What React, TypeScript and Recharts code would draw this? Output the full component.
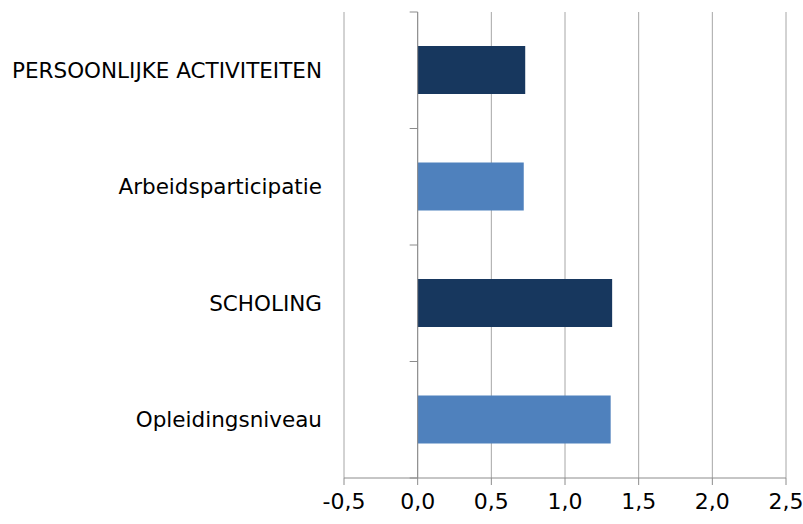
import { BarChart, Bar, Cell, XAxis, YAxis, CartesianGrid, ReferenceLine } from 'recharts'

const categories = ['PERSOONLIJKE ACTIVITEITEN', 'Arbeidsparticipatie', 'SCHOLING', 'Opleidingsniveau']
const values = [0.73, 0.72, 1.32, 1.31]
const barColors = ['#17375E', '#4F81BD', '#17375E', '#4F81BD']
const xTicks = [-0.5, 0, 0.5, 1, 1.5, 2, 2.5]

const data = categories.map((name, i) => ({ name, value: values[i] }))

const FONT = 'DejaVu Sans, sans-serif'

// axis line at 0 with small tick marks on the category boundaries
function ZeroAxis(props: any) {
  const { x1, y1, y2 } = props
  const n = categories.length
  const marks = []
  for (let i = 0; i <= n; i++) {
    const y = y1 + ((y2 - y1) * i) / n
    marks.push(<line key={i} x1={x1 - 8} x2={x1} y1={y} y2={y} stroke="#8c8c8c" strokeWidth={1} />)
  }
  return (
    <g>
      <line x1={x1} x2={x1} y1={y1} y2={y2} stroke="#8c8c8c" strokeWidth={1} />
      {marks}
    </g>
  )
}

export default function App() {
  return (
    <div style={{ position: 'absolute', left: 0, top: 0, background: '#fff' }}>
      <BarChart
        width={803}
        height={524}
        data={data}
        layout="vertical"
        margin={{ top: 12, right: 17, bottom: 0, left: 5 }}
        barSize={48}
      >
        <CartesianGrid horizontal={false} stroke="#a6a6a6" />
        <XAxis
          type="number"
          domain={[-0.5, 2.5]}
          ticks={xTicks}
          interval={0}
          tickFormatter={(v: number) => v.toFixed(1).replace('.', ',')}
          stroke="#8c8c8c"
          tickSize={7}
          tickMargin={8}
          height={46}
          tick={{ fill: '#000', fontSize: 22, fontFamily: FONT }}
        />
        <YAxis
          type="category"
          dataKey="name"
          width={339}
          axisLine={false}
          tickLine={false}
          tickSize={0}
          tickMargin={22}
          tick={{ fill: '#000', fontSize: 21.5, fontFamily: FONT }}
        />
        <Bar dataKey="value" isAnimationActive={false}>
          {data.map((entry, index) => (
            <Cell key={index} fill={barColors[index]} />
          ))}
        </Bar>
        <ReferenceLine x={0} shape={ZeroAxis} />
      </BarChart>
    </div>
  )
}
